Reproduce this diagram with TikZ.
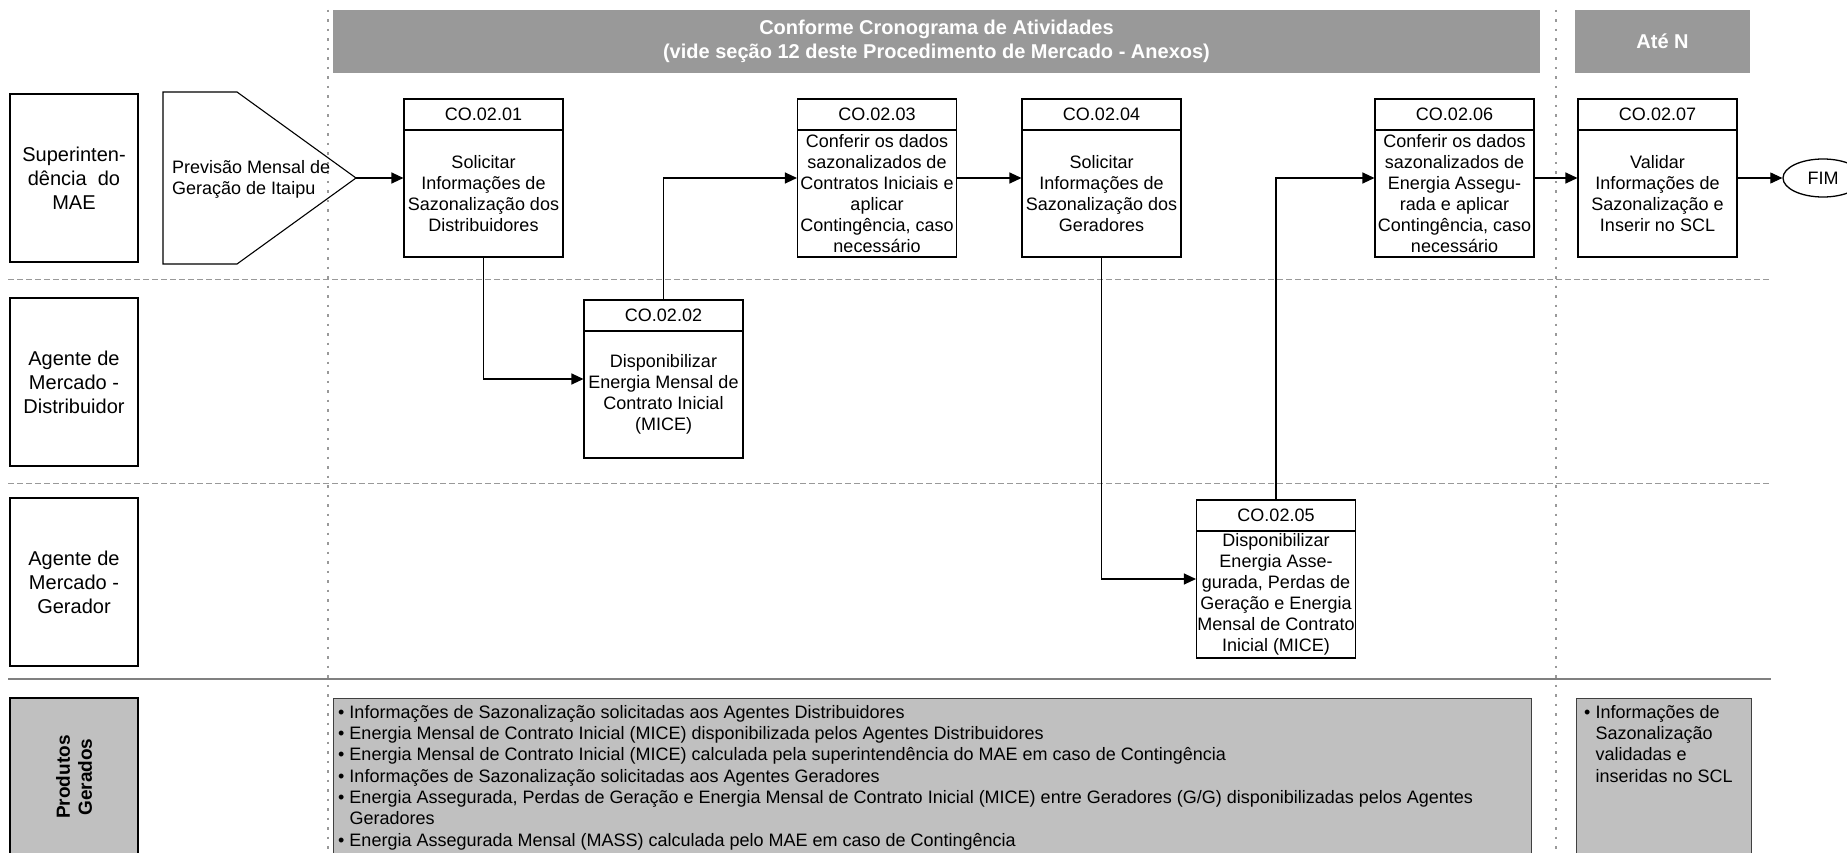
\documentclass[tikz,border=0pt]{standalone}
\usepackage{fontspec}
\setmainfont{Liberation Sans}
\usepackage{tikz}
\usepackage{xcolor}
\usetikzlibrary{arrows.meta, shapes.geometric, positioning}
\definecolor{cinzaescuro}{HTML}{999999}
\definecolor{cinzaclaro}{HTML}{C0C0C0}
\definecolor{cinzaborda}{HTML}{404040}
\newcommand{\caixa}[2]{\parbox[c][158pt][t]{159pt}{\centering
    \parbox[c][31pt][c]{159pt}{\centering #1}\par\nointerlineskip
    \parbox[c][127pt][c]{159pt}{\centering #2}}}
\newcommand{\marca}{\textbullet\ }
\newcommand{\recuo}{\phantom{\textbullet\ }}

\begin{document}
\begin{tikzpicture}[x=1pt, y=-1pt,
        every node/.style={font=\fontsize{18pt}{21pt}\selectfont},
        raia/.style={draw, line width=1.6pt, minimum width=128pt, minimum height=168pt,
            inner sep=0pt, align=center, font=\fontsize{20pt}{24pt}\selectfont},
        faixa/.style={fill=cinzaescuro, text=white, align=center, inner sep=0pt,
            minimum height=63pt, font=\bfseries\fontsize{20pt}{24pt}\selectfont},
        atividade/.style={draw, rectangle, line width=1.1pt, inner sep=0pt,
            minimum width=159pt, minimum height=158pt,
            path picture={\draw[line width=1.1pt]
                ([yshift=-31pt]path picture bounding box.north west) --
                ([yshift=-31pt]path picture bounding box.north east);}},
        produtos/.style={draw=cinzaborda, fill=cinzaclaro, line width=1pt, inner sep=0pt},
        divisao/.style={cinzaescuro, line width=1pt, dash pattern=on 6pt off 3pt},
        coluna/.style={cinzaescuro, line width=1.2pt, dash pattern=on 2.5pt off 7pt},
        seta/.style={line width=1.1pt, -{Triangle[length=12pt, width=11pt]}}
    ]
                                \useasboundingbox (0,0) rectangle (1847,853);
                                \clip (0,0) rectangle (1847,853);

                                \draw[divisao] (8,279) -- (1771,279);
                                \draw[divisao] (8,483) -- (1771,483);
                                \draw[gray, line width=1.3pt] (8,679) -- (1771,679);
                                \draw[coluna] (328,10) -- (328,853);
                                \draw[coluna] (1556,10) -- (1556,853);

                                \node[faixa, minimum width=1207pt] (cronograma) at (936.5,41.5)
                                    {Conforme Cronograma de Atividades\\(vide seção 12 deste Procedimento de Mercado - Anexos)};
                                \node[faixa, minimum width=175pt] (aten) at (1662.5,41.5) {Até N};

                                \node[raia] (mae) at (74,178) {Superinten-\\dência\ \ do\\MAE};
                                \node[raia] (distribuidor) at (74,382) {Agente de\\Mercado -\\Distribuidor};
                                \node[raia] (gerador) at (74,582) {Agente de\\Mercado -\\Gerador};
                                \node[raia, fill=cinzaclaro, rotate=90, minimum width=158pt, minimum height=128pt,
                                    font=\bfseries\fontsize{19pt}{22pt}\selectfont] (gerados) at (74,777) {Produtos\\Gerados};

                                \coordinate (ponta) at (356,178);
                                \draw[line width=1.1pt] (163,92) -- (237,92) -- (ponta) -- (237,264) -- (163,264) -- cycle;
                                \node[anchor=west, align=left, inner sep=0pt] (previsao) at (172,179) {Previsão Mensal de\\Geração de Itaipu};

                                \node[atividade] (a01) at (483.5,178) {\caixa{CO.02.01}{Solicitar\\Informações de\\Sazonalização dos\\Distribuidores}};
                                \node[atividade] (a02) at (663.5,379) {\caixa{CO.02.02}{Disponibilizar\\Energia Mensal de\\Contrato Inicial\\(MICE)}};
                                \node[atividade] (a03) at (877,178) {\caixa{CO.02.03}{Conferir os dados\\sazonalizados de\\Contratos Iniciais e\\aplicar\\Contingência, caso\\necessário}};
                                \node[atividade] (a04) at (1101.5,178) {\caixa{CO.02.04}{Solicitar\\Informações de\\Sazonalização dos\\Geradores}};
                                \node[atividade] (a05) at (1276,579) {\caixa{CO.02.05}{Disponibilizar\\Energia Asse-\\gurada, Perdas de\\Geração e Energia\\Mensal de Contrato\\Inicial (MICE)}};
                                \node[atividade] (a06) at (1454.5,178) {\caixa{CO.02.06}{Conferir os dados\\sazonalizados de\\Energia Assegu-\\rada e aplicar\\Contingência, caso\\necessário}};
                                \node[atividade] (a07) at (1657.5,178) {\caixa{CO.02.07}{Validar\\Informações de\\Sazonalização e\\Inserir no SCL}};
                                \node[draw, ellipse, line width=1.3pt, minimum width=80pt, minimum height=38pt] (fim) at (1823,178) {FIM};

                                \draw[seta] (ponta) -- (a01.west);
                                \draw[seta] (a01.south) |- (a02.west);
                                \draw[seta] (a02.north) |- (a03.west);
                                \draw[seta] (a03.east) -- (a04.west);
                                \draw[seta] (a04.south) |- (a05.west);
                                \draw[seta] (a05.north) |- (a06.west);
                                \draw[seta] (a06.east) -- (a07.west);
                                \draw[seta] (a07.east) -- (fim.west);

                                \node[produtos, minimum width=1198pt, minimum height=162pt, anchor=north west] (lista) at (333,698) {};
                                \node[produtos, minimum width=175pt, minimum height=162pt, anchor=north west] (lista2) at (1576,698) {};
                                \node[anchor=north west, align=left, inner sep=0pt, font=\fontsize{18pt}{21.3pt}\selectfont]
                                    (itens) at ([xshift=5pt, yshift=-7pt]lista.north west)
                                    {\marca Informações de Sazonalização solicitadas aos Agentes Distribuidores\\
                                     \marca Energia Mensal de Contrato Inicial (MICE) disponibilizada pelos Agentes Distribuidores\\
                                     \marca Energia Mensal de Contrato Inicial (MICE) calculada pela superintendência do MAE em caso de Contingência\\
                                     \marca Informações de Sazonalização solicitadas aos Agentes Geradores\\
                                     \marca Energia Assegurada, Perdas de Geração e Energia Mensal de Contrato Inicial (MICE) entre Geradores (G/G) disponibilizadas pelos Agentes\\
                                     \recuo Geradores\\
                                     \marca Energia Assegurada Mensal (MASS) calculada pelo MAE em caso de Contingência};
                                \node[anchor=north west, align=left, inner sep=0pt, font=\fontsize{18pt}{21.3pt}\selectfont]
                                    (itens2) at ([xshift=8pt, yshift=-7pt]lista2.north west)
                                    {\marca Informações de\\\recuo Sazonalização\\\recuo validadas e\\\recuo inseridas no SCL};
                            \end{tikzpicture}
\end{document}
